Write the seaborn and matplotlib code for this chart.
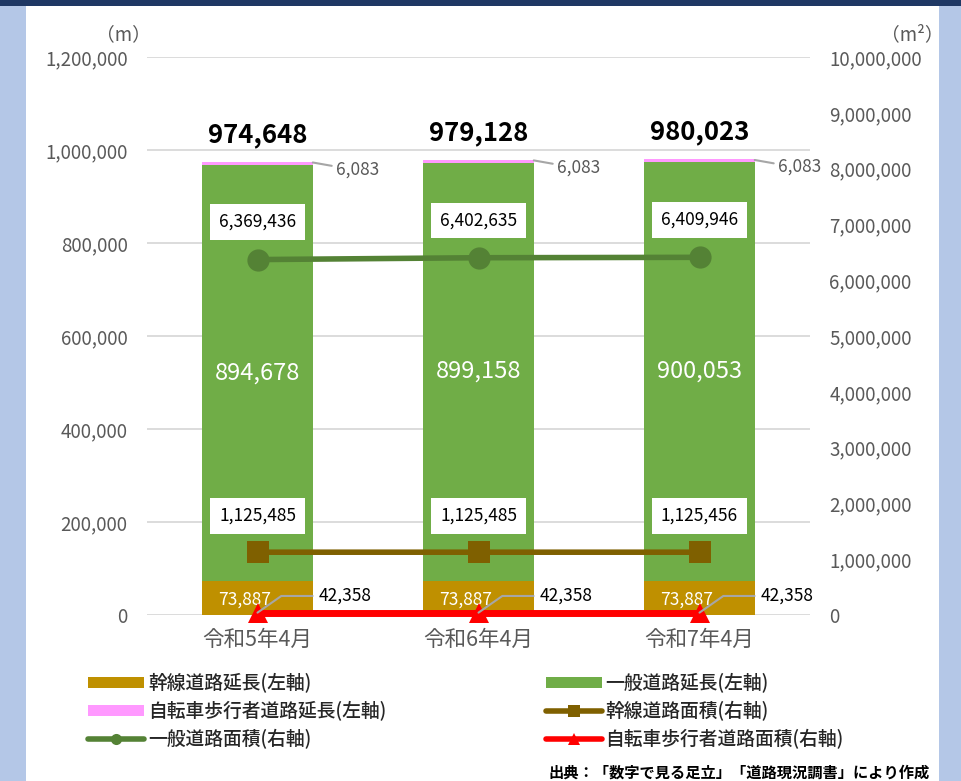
import matplotlib
matplotlib.use("Agg")
import matplotlib.pyplot as plt
import seaborn as sns
import pandas as pd
from matplotlib.patches import Rectangle, Patch
from matplotlib.lines import Line2D
from matplotlib.ticker import FuncFormatter

categories = ["令和5年4月", "令和6年4月", "令和7年4月"]
trunk_len = [73887, 73887, 73887]
general_len = [894678, 899158, 900053]
bike_len = [6083, 6083, 6083]
totals = [974648, 979128, 980023]
general_area = [6369436, 6402635, 6409946]
trunk_area = [1125485, 1125485, 1125456]
bike_area = [42358, 42358, 42358]

legend_labels = ["幹線道路延長(左軸)", "一般道路延長(左軸)", "自転車歩行者道路延長(左軸)",
                 "幹線道路面積(右軸)", "一般道路面積(右軸)", "自転車歩行者道路面積(右軸)"]

C_TRUNK = "#BF9000"
C_GEN = "#70AD47"
C_BIKE = "#FF99FF"
C_GEN_A = "#548235"
C_TRUNK_A = "#7F6000"
C_BIKE_A = "#FF0000"
GRAY = "#595959"

sns.set_theme(style="white")
plt.rcParams["font.family"] = ["Noto Sans CJK JP", "DejaVu Sans"]

fig = plt.figure(figsize=(9.61, 7.81), dpi=100)
fig.patch.set_facecolor("#B4C7E7")
fig.patches.append(Rectangle((26/961, 0), (939-26)/961, 1 - 6/781, transform=fig.transFigure,
                             facecolor="white", edgecolor="none", zorder=-10))
fig.patches.append(Rectangle((0, 1 - 6/781), 1, 6/781, transform=fig.transFigure,
                             facecolor="#1F3864", edgecolor="none", zorder=-10))

ax = fig.add_axes([147/961, 1 - 615/781, (810-147)/961, (615-57)/781])
ax.set_facecolor("none")

df = pd.DataFrame({"cat": categories,
                   "total": totals,
                   "tg": [t + g for t, g in zip(trunk_len, general_len)],
                   "trunk": trunk_len})
for col, c in (("total", C_BIKE), ("tg", C_GEN), ("trunk", C_TRUNK)):
    sns.barplot(data=df, x="cat", y=col, color=c, saturation=1, width=0.5, ax=ax,
                zorder=2, edgecolor="none", linewidth=0)

ax.set_xlim(-0.5, 2.5)
ax.set_ylim(0, 1200000)
ax.set_yticks(range(0, 1200001, 200000))
ax.yaxis.set_major_formatter(FuncFormatter(lambda v, p: f"{int(v):,}"))
ax.grid(axis="y", color="#D9D9D9", linewidth=1.3)
ax.set_axisbelow(True)
ax.set_xlabel("")
ax.set_ylabel("")
for s in ax.spines.values():
    s.set_visible(False)
ax.tick_params(axis="y", length=0, labelsize=13.5, labelcolor=GRAY, pad=14)
ax.tick_params(axis="x", length=0, labelsize=15.5, labelcolor=GRAY, pad=10)

# bar labels
for i in range(3):
    ax.annotate(f"{totals[i]:,}", xy=(i, totals[i]), xytext=(0, 10), textcoords="offset points",
                ha="center", va="bottom", fontsize=18.5, fontweight="bold", color="black", zorder=6)
    mid = trunk_len[i] + general_len[i] / 2
    ax.text(i, mid, f"{general_len[i]:,}", ha="center", va="center", fontsize=17, color="white", zorder=6)
    ax.text(i - 0.06, trunk_len[i] / 2 - 4000, f"{trunk_len[i]:,}", ha="center", va="center",
            fontsize=12.5, color="white", zorder=6)
    ax.annotate(f"{bike_len[i]:,}", xy=(i + 0.25, totals[i] - 1500), xytext=(17, -5),
                textcoords="offset points", ha="left", va="center", fontsize=12.5, color=GRAY,
                arrowprops=dict(arrowstyle="-", color="#A6A6A6", lw=1.5, shrinkA=1, shrinkB=0,
                                relpos=(0, 0.5), connectionstyle="angle,angleA=0,angleB=-10,rad=0"),
                zorder=6, annotation_clip=False)

ax2 = ax.twinx()
ax2.set_ylim(0, 10000000)
ax2.set_yticks(range(0, 10000001, 1000000))
ax2.yaxis.set_major_formatter(FuncFormatter(lambda v, p: f"{int(v):,}"))
for s in ax2.spines.values():
    s.set_visible(False)
ax2.tick_params(axis="y", length=0, labelsize=13.5, labelcolor=GRAY, pad=14)
ax2.grid(False)

xs = [0, 1, 2]
sns.lineplot(x=xs, y=general_area, ax=ax2, color=C_GEN_A, linewidth=4, marker="o",
             markersize=16, markeredgewidth=0, zorder=4, clip_on=False)
sns.lineplot(x=xs, y=trunk_area, ax=ax2, color=C_TRUNK_A, linewidth=4, marker="s",
             markersize=16, markeredgewidth=0, zorder=4, clip_on=False)
sns.lineplot(x=xs, y=bike_area, ax=ax2, color=C_BIKE_A, linewidth=5, marker="^",
             markersize=14, markeredgewidth=0, zorder=4, clip_on=False)
ax2.set_xlim(-0.5, 2.5)
ax2.set_ylabel("")
if ax2.get_legend():
    ax2.get_legend().remove()

box = dict(boxstyle="square,pad=0.5", facecolor="white", edgecolor="none")
for i in range(3):
    ax2.annotate(f"{general_area[i]:,}", xy=(i, general_area[i]), xytext=(0, 27),
                 textcoords="offset points", ha="center", va="center", fontsize=12.5,
                 color="black", bbox=box, zorder=7)
    ax2.annotate(f"{trunk_area[i]:,}", xy=(i, trunk_area[i]), xytext=(0, 26),
                 textcoords="offset points", ha="center", va="center", fontsize=12.5,
                 color="black", bbox=box, zorder=7)
    ax2.annotate(f"{bike_area[i]:,}", xy=(i, bike_area[i]), xytext=(44, 12),
                 textcoords="offset points", ha="left", va="center", fontsize=12.5, color="black",
                 arrowprops=dict(arrowstyle="-", color="#A6A6A6", lw=1.5, shrinkA=2, shrinkB=0,
                                 relpos=(0, 0.5), connectionstyle="angle,angleA=180,angleB=35,rad=0"),
                 zorder=7, annotation_clip=False)

# unit labels
fig.text(123/961, 1 - 35/781, "（m）", ha="center", va="center", fontsize=13.5, color=GRAY)
fig.text(912/961, 1 - 35/781, "（m²）", ha="center", va="center", fontsize=13.5, color=GRAY)

# legend
handles = [
    Patch(facecolor=C_TRUNK, edgecolor="none"),
    Patch(facecolor=C_BIKE, edgecolor="none"),
    Line2D([], [], color=C_GEN_A, lw=4, marker="o", markersize=8, markeredgewidth=0),
    Patch(facecolor=C_GEN, edgecolor="none"),
    Line2D([], [], color=C_TRUNK_A, lw=4, marker="s", markersize=8, markeredgewidth=0),
    Line2D([], [], color=C_BIKE_A, lw=4, marker="^", markersize=8, markeredgewidth=0),
]
labels = [legend_labels[0], legend_labels[2], legend_labels[4],
          legend_labels[1], legend_labels[3], legend_labels[5]]
fig.legend(handles, labels, ncol=2, loc="upper left", bbox_to_anchor=(88/961, 1 - 673/781),
           frameon=False, handlelength=3.0, handleheight=0.55, handletextpad=0.2,
           columnspacing=8.5, labelspacing=0.42, borderaxespad=0, borderpad=0,
           prop={"size": 13.5, "weight": "medium"})

fig.text(930/961, 1 - 773/781, "出典：「数字で見る足立」「道路現況調書」により作成",
         ha="right", va="center", fontsize=11, fontweight="bold", color="black")

fig.savefig("out.png", dpi=100, facecolor=fig.get_facecolor())
